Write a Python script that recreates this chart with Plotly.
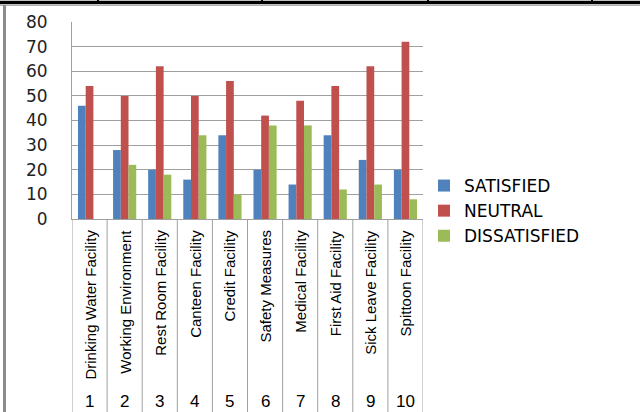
import plotly.graph_objects as go

categories = ["Drinking Water Facility", "Working Environment", "Rest Room Facility",
              "Canteen Facility", "Credit Facility", "Safety Measures",
              "Medical Facility", "First Aid Facility", "Sick Leave Facility",
              "Spittoon Facility"]
numbers = ["1", "2", "3", "4", "5", "6", "7", "8", "9", "10"]
satisfied = [46, 28, 20, 16, 34, 20, 14, 34, 24, 20]
neutral = [54, 50, 62, 50, 56, 42, 48, 54, 62, 72]
dissatisfied = [0, 22, 18, 34, 10, 38, 38, 12, 14, 8]

W, H = 640, 412
L, R, T, B = 72, 217, 22, 193
PW, PH = W - L - R, H - T - B

def px(x):
    return (x - L) / PW

def py(y):
    return (H - B - y) / PH

narrow = "Liberation Sans Narrow, Arial Narrow, Liberation Sans, sans-serif"
wide = "DejaVu Sans, Verdana, sans-serif"
grid = "#A0A0A0"

fig = go.Figure()
for name, vals, col in [("SATISFIED", satisfied, "#4F81BD"),
                        ("NEUTRAL", neutral, "#C0504D"),
                        ("DISSATISFIED", dissatisfied, "#9BBB59")]:
    fig.add_trace(go.Bar(x=categories, y=vals, name=name, marker_color=col,
                         marker_line_width=0, legendgroup=name))

shapes = []
# category dividers below axis
for i in range(len(categories) + 1):
    shapes.append(dict(type="line", xref="x", yref="paper", x0=i - 0.5, x1=i - 0.5,
                       y0=0, y1=py(H + 2), line=dict(color=grid, width=1)))
# page/table borders
shapes.append(dict(type="line", xref="paper", yref="paper", x0=px(0), x1=px(W),
                   y0=py(2.5), y1=py(2.5), line=dict(color="black", width=3.5)))
shapes.append(dict(type="line", xref="paper", yref="paper", x0=px(0), x1=px(W),
                   y0=py(5.5), y1=py(5.5), line=dict(color="#B0B0B0", width=1)))
for xv in [98, 262, 428, 592]:
    shapes.append(dict(type="line", xref="paper", yref="paper", x0=px(xv), x1=px(xv),
                       y0=py(0), y1=py(3), line=dict(color="black", width=2)))
shapes.append(dict(type="line", xref="paper", yref="paper", x0=px(4.5), x1=px(4.5),
                   y0=py(5), y1=py(H + 2), line=dict(color="#8C8C8C", width=3)))

annotations = []
for c in categories:
    annotations.append(dict(x=c, xref="x", yref="paper", y=py(228), text=c,
                            textangle=-90, showarrow=False, xanchor="center",
                            yanchor="top", font=dict(family=narrow, size=15, color="black")))
for c, n in zip(categories, numbers):
    annotations.append(dict(x=c, xref="x", yref="paper", y=py(401), text=n,
                            showarrow=False, xanchor="center", yanchor="middle",
                            font=dict(family=narrow, size=17, color="black")))

fig.update_layout(
    width=W, height=H,
    margin=dict(l=L, r=R, t=T, b=B, pad=0),
    paper_bgcolor="white", plot_bgcolor="white",
    barmode="group", bargap=0.34, bargroupgap=0,
    showlegend=True,
    legend=dict(x=px(424), y=py(168), xanchor="left", yanchor="top",
                font=dict(family=wide, size=17, color="black"),
                traceorder="grouped", tracegroupgap=0, bgcolor="rgba(0,0,0,0)"),
    xaxis=dict(showticklabels=False, ticks="", showgrid=False, showline=True,
               linecolor=grid, linewidth=1, range=[-0.5, 9.5], fixedrange=True),
    yaxis=dict(range=[0, 80], dtick=10, showgrid=True, gridcolor=grid, gridwidth=1,
               showline=True, linecolor=grid, linewidth=1, ticks="",
               ticklabelstandoff=20, zeroline=False, fixedrange=True,
               tickfont=dict(family=wide, size=17, color="#222222")),
    shapes=shapes, annotations=annotations,
)

fig.write_html("out.html", config={"displayModeBar": False},
               post_script="document.body.style.margin='0';document.body.style.overflow='hidden';")
